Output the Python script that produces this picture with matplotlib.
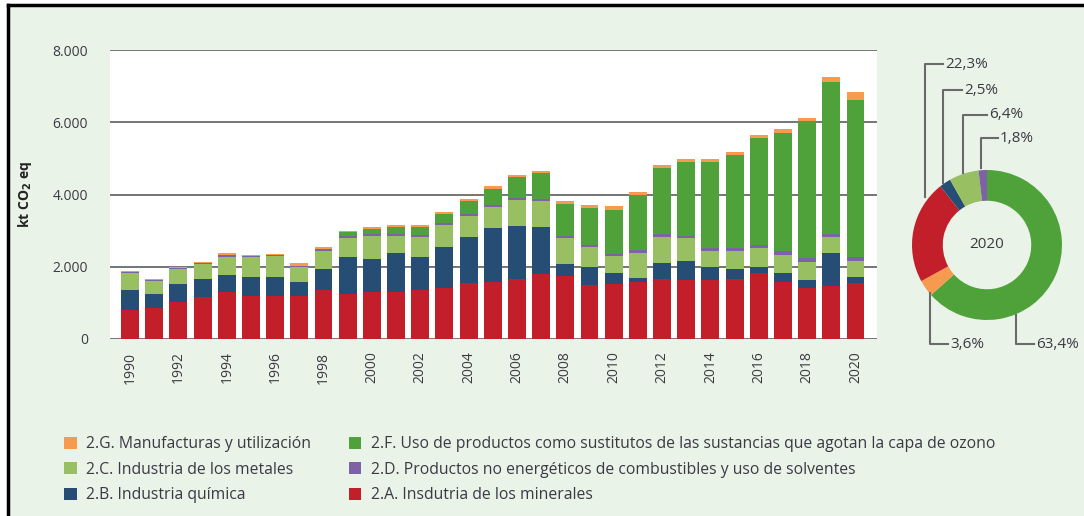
import numpy as np
import matplotlib
matplotlib.use("Agg")
import matplotlib.pyplot as plt
from matplotlib import font_manager as fm
from matplotlib.patches import Rectangle, Patch
from matplotlib.lines import Line2D

# Data (kt CO2 eq)
years = list(range(1990, 2021))

red_2a = [790, 855, 1020, 1160, 1300, 1195, 1180, 1180, 1360, 1240, 1300, 1305, 1360, 1425, 1545, 1575,
          1655, 1810, 1755, 1500, 1525, 1590, 1665, 1640, 1640, 1655, 1820, 1590, 1425, 1470, 1545]
blue_2b = [570, 385, 505, 495, 480, 515, 535, 405, 570, 1020, 920, 1070, 900, 1120, 1290, 1500,
           1470, 1300, 315, 480, 315, 110, 435, 525, 340, 275, 185, 230, 195, 900, 170]
lgreen_2c = [480, 375, 425, 415, 495, 550, 570, 395, 515, 535, 635, 480, 570, 610, 570, 590,
             735, 700, 725, 580, 470, 690, 735, 625, 460, 515, 505, 505, 505, 440, 440]
purple_2d = [15, 20, 25, 35, 50, 30, 35, 40, 50, 55, 55, 55, 55, 55, 55, 55,
             55, 55, 55, 55, 55, 75, 75, 75, 75, 75, 100, 110, 110, 110, 120]
green_2f = [0, 0, 0, 0, 0, 0, 0, 0, 0, 110, 130, 185, 220, 260, 350, 430,
            570, 720, 900, 1020, 1215, 1535, 1810, 2025, 2375, 2565, 2960, 3265, 3800, 4185, 4330]
orange_2g = [20, 20, 30, 40, 50, 40, 40, 80, 60, 40, 55, 55, 55, 55, 65, 75,
             50, 55, 75, 85, 90, 75, 90, 100, 90, 100, 90, 110, 90, 155, 240]

# 2020 shares for the donut (clockwise from the top)
pie_labels = ["63,4%", "3,6%", "22,3%", "2,5%", "6,4%", "1,8%"]
pie_values = [63.4, 3.6, 22.3, 2.5, 6.4, 1.8]

labels = {
    "g": "2.G. Manufacturas y utilización",
    "f": "2.F. Uso de productos como sustitutos de las sustancias que agotan la capa de ozono",
    "c": "2.C. Industria de los metales",
    "d": "2.D. Productos no energéticos de combustibles y uso de solventes",
    "b": "2.B. Industria química",
    "a": "2.A. Insdutria de los minerales",
}
colors = {"a": "#C21F2B", "b": "#264D74", "c": "#98BF62", "d": "#7D62A6", "f": "#4FA23A", "g": "#F59A4F"}

names = {f.name for f in fm.fontManager.ttflist}
narrow = "Liberation Sans Narrow" if "Liberation Sans Narrow" in names else "Open Sans"
plt.rcParams["font.family"] = ["Open Sans", "DejaVu Sans"]
txt = "#3a3a44"
bg = "#EAF3E8"

W, H = 1084, 516
fig = plt.figure(figsize=(W / 100, H / 100), dpi=100, facecolor="white")

def fx(px):
    return px / W

def fy(py):
    return 1 - py / H

# light green panel with black top/left edge
fig.patches.append(Rectangle((fx(8), 0), 1 - fx(8), fy(5), transform=fig.transFigure,
                             facecolor=bg, edgecolor="none", zorder=-10))
fig.lines.append(Line2D([fx(8), 1], [fy(5), fy(5)], transform=fig.transFigure, color="black", lw=2.5))
fig.lines.append(Line2D([fx(8), fx(8)], [fy(5), 0], transform=fig.transFigure, color="black", lw=2.5))

# bar chart
ax = fig.add_axes([fx(110), fy(339), fx(877) - fx(110), fy(50) - fy(339)])
ax.set_facecolor("white")
x = np.array(years)
stack = [("a", red_2a), ("b", blue_2b), ("c", lgreen_2c), ("d", purple_2d), ("f", green_2f), ("g", orange_2g)]
bottom = np.zeros(len(years))
for key, vals in stack:
    vals = np.array(vals, dtype=float)
    ax.bar(x, vals, bottom=bottom, width=0.74, color=colors[key], linewidth=0, zorder=3)
    bottom += vals

ax.set_xlim(1989.17, 2020.89)
ax.set_ylim(0, 8000)
ax.set_yticks([0, 2000, 4000, 6000, 8000])
ax.set_yticklabels(["0", "2.000", "4.000", "6.000", "8.000"])
ax.set_xticks(years[::2])
ax.set_xticklabels([str(y) for y in years[::2]], rotation=90)
ax.tick_params(axis="both", length=0, labelsize=10, colors=txt)
ax.tick_params(axis="y", pad=16)
ax.tick_params(axis="x", pad=9)
ax.grid(axis="y", color="#6a6a6a", lw=1.3, zorder=1)
for s in ax.spines.values():
    s.set_visible(False)
fig.text(fx(25), fy(195), r"kt CO$_\mathbf{2}$ eq", rotation=90, ha="center", va="center",
         fontsize=10, fontweight="bold", color="#222222")

# donut
r = 75
cx, cy = 987, 245
axp = fig.add_axes([fx(cx - r), fy(cy + r), 2 * r / W, 2 * r / H])
axp.pie(pie_values, colors=[colors[k] for k in ["f", "g", "a", "b", "c", "d"]], startangle=90,
        counterclock=False, radius=1, wedgeprops=dict(width=0.41, linewidth=0))
axp.set_xlim(-1, 1)
axp.set_ylim(-1, 1)
axp.set_aspect("equal")
axp.axis("off")
axp.text(0, 0, "2020", ha="center", va="center", fontsize=11, color=txt)

# leader lines: (text, corner x, end y of vertical, text y, end x of horizontal)
leaders = [
    ("22,3%", 925, 197, 64, 943),
    ("2,5%", 943, 183, 90, 962),
    ("6,4%", 963, 173, 115, 987),
    ("1,8%", 981, 168, 138, 998),
    ("3,6%", 930, 293, 344, 948),
    ("63,4%", 1016, 315, 344, 1034),
]
for lab, xv, yend, ytxt, xh in leaders:
    fig.lines.append(Line2D([fx(xv), fx(xv), fx(xh)], [fy(yend), fy(ytxt), fy(ytxt)],
                            transform=fig.transFigure, color="#6a6a6a", lw=1.5))
    fig.text(fx(xh + 2), fy(ytxt), lab, ha="left", va="center", fontsize=11, color=txt, family=narrow)

# legend
order = ["g", "c", "b", "f", "d", "a"]
handles = [Patch(facecolor=colors[k], edgecolor="none") for k in order]
fig.legend(handles, [labels[k] for k in order], ncol=2, loc="upper left",
           bbox_to_anchor=(fx(50), fy(422)), frameon=False, prop=dict(family=narrow, size=11.3),
           handlelength=0.8, handleheight=0.8, handletextpad=0.6, labelspacing=0.6,
           columnspacing=2.4, labelcolor=txt)

fig.savefig("out.png", dpi=100, facecolor="white")
